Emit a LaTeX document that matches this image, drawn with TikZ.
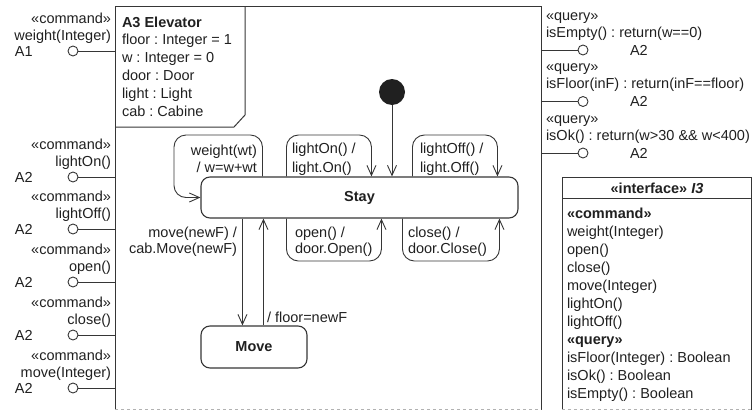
\documentclass[tikz,border=0pt]{standalone}
\usepackage{fontspec}
\setmainfont{Liberation Sans}
\usetikzlibrary{arrows.meta}
\definecolor{linec}{HTML}{363636}
\definecolor{txtc}{HTML}{202020}
\newcommand\myfs{\fontsize{14.5}{17}\selectfont}
\frenchspacing
\begin{document}
\frenchspacing
\begin{tikzpicture}[x=1pt,y=-1pt,
  lbl/.style={inner sep=0pt, outer sep=0pt, font=\myfs, text=txtc},
  lblw/.style={lbl, anchor=base west},
  lble/.style={lbl, anchor=base east},
  portc/.style={circle, draw=linec, line width=0.9pt, minimum size=10pt, inner sep=0pt, fill=white},
  statebox/.style={draw=linec, line width=1.1pt, rounded corners=9pt, inner sep=0pt, font=\myfs\bfseries, text=txtc},
  conn/.style={draw=linec, line width=0.9pt},
  arr/.style={conn, -{Straight Barb[length=10pt,width=9pt,line width=0.9pt]}},
  selfloop/.style={arr, rounded corners=12pt},
  framec/.style={draw=linec, line width=1pt},
  cutedge/.style={draw=gray!60, dashed, line width=0.5pt}]
\useasboundingbox (0,0) rectangle (753,410);

% frame of the component
\coordinate (fl) at (115,0);
\coordinate (fr) at (541,0);
\draw[framec] (115,409.5) -- (115,6) -- (541,6) -- (541,409.5);
\draw[cutedge] (115,409.5) -- (541,409.5);
\draw[framec] (245,6) -- (245,115) -- (234,127) -- (115,127);

% name compartment
\node[lblw, font=\myfs\bfseries] (nm0) at (122,27) {A3 Elevator};
\node[lblw] (nm1) at (122,44.8) {floor : Integer = 1};
\node[lblw] (nm2) at (122,62.6) {w : Integer = 0};
\node[lblw] (nm3) at (122,80.4) {door : Door};
\node[lblw] (nm4) at (122,98.2) {light : Light};
\node[lblw] (nm5) at (122,116) {cab : Cabine};

% left ports
\foreach \i/\y/\nm/\a in {1/51/weight(Integer)/A1, 2/177/lightOn()/A2, 3/229/lightOff()/A2, 4/282/open()/A2, 5/335/close()/A2, 6/388/move(Integer)/A2}{
  \node[portc] (pl\i) at (73,\y) {};
  \draw[conn] (pl\i) -- (pl\i -| fl);
  \node[lble] (plst\i) at (111,\y-28) {«command»};
  \node[lble] (plnm\i) at (111,\y-11) {\nm};
  \node[lblw] (pla\i) at (15,\y+5) {\a};
}

% right ports
\foreach \i/\y/\nm in {1/50/{isEmpty() : return(w==0)}, 2/101.5/{isFloor(inF) : return(inF==floor)}, 3/153/{isOk() : return(w>30 \&\& w<400)}}{
  \node[portc] (pr\i) at (583,\y) {};
  \draw[conn] (pr\i) -- (pr\i -| fr);
  \node[lblw] (prst\i) at (546,\y-30) {«query»};
  \node[lblw] (prnm\i) at (546,\y-13) {\nm};
  \node[lblw] (pra\i) at (630,\y+5) {A2};
}

% states
\node[statebox, minimum width=317pt, minimum height=41pt] (stay) at (359.5,197.5) {Stay};
\node[statebox, minimum width=106pt, minimum height=42pt] (move) at (254,347) {Move};
\node[circle, fill=txtc, minimum size=26pt, inner sep=0pt] (init) at (392,92) {};

\draw[arr] (init) -- (init |- stay.north);

% self transitions
\draw[selfloop] ([xshift=62pt]stay.north west) |- (174,135) |- (stay.west);
\draw[selfloop] ([xshift=86pt]stay.north west) |- (330,135) -| ([xshift=171pt]stay.north west);
\draw[selfloop] ([xshift=212pt]stay.north west) |- (455,135) -| ([xshift=297pt]stay.north west);
\draw[selfloop] ([xshift=86pt]stay.south west) |- (330,261) -| ([xshift=181pt]stay.south west);
\draw[selfloop] ([xshift=202pt]stay.south west) |- (450,261) -| ([xshift=299pt]stay.south west);

% Stay <-> Move
\draw[arr] ([xshift=42pt]stay.south west) -- ([xshift=42pt]move.north west);
\draw[arr] ([xshift=63pt]move.north west) -- ([xshift=63pt]stay.south west);

% transition labels
\node[lble] (tw1) at (257,155) {weight(wt)};
\node[lble] (tw2) at (257,172) {/ w=w+wt};
\node[lblw] (ton1) at (292,153) {lightOn() /};
\node[lblw] (ton2) at (292,172) {light.On()};
\node[lblw] (tof1) at (420,153) {lightOff() /};
\node[lblw] (tof2) at (420,172) {light.Off()};
\node[lblw] (top1) at (295,237) {open() /};
\node[lblw] (top2) at (295,253) {door.Open()};
\node[lblw] (tcl1) at (408,237) {close() /};
\node[lblw] (tcl2) at (408,253) {door.Close()};
\node[lble] (tmv1) at (237,237) {move(newF) /};
\node[lble] (tmv2) at (237,253) {cab.Move(newF)};
\node[lblw] (tfl) at (267,322) {/ floor=newF};

% interface box
\draw[framec] (562,409.5) -- (562,177) -- (751.5,177) -- (751.5,409.5);
\draw[framec] (562,198) -- (751.5,198);
\draw[cutedge] (562,409.5) -- (751.5,409.5);
\node[lbl, anchor=base, font=\myfs\bfseries] (ihead) at (657,193) {«interface» \textit{I3}};
\foreach \k/\t in {0/{\textbf{«command»}}, 1/weight(Integer), 2/open(), 3/close(), 4/move(Integer), 5/lightOn(), 6/lightOff(), 7/{\textbf{«query»}}, 8/isFloor(Integer) : Boolean, 9/isOk() : Boolean, 10/isEmpty() : Boolean}{
  \node[lblw] (if\k) at (567,218+18*\k) {\t};
}
\end{tikzpicture}
\end{document}
